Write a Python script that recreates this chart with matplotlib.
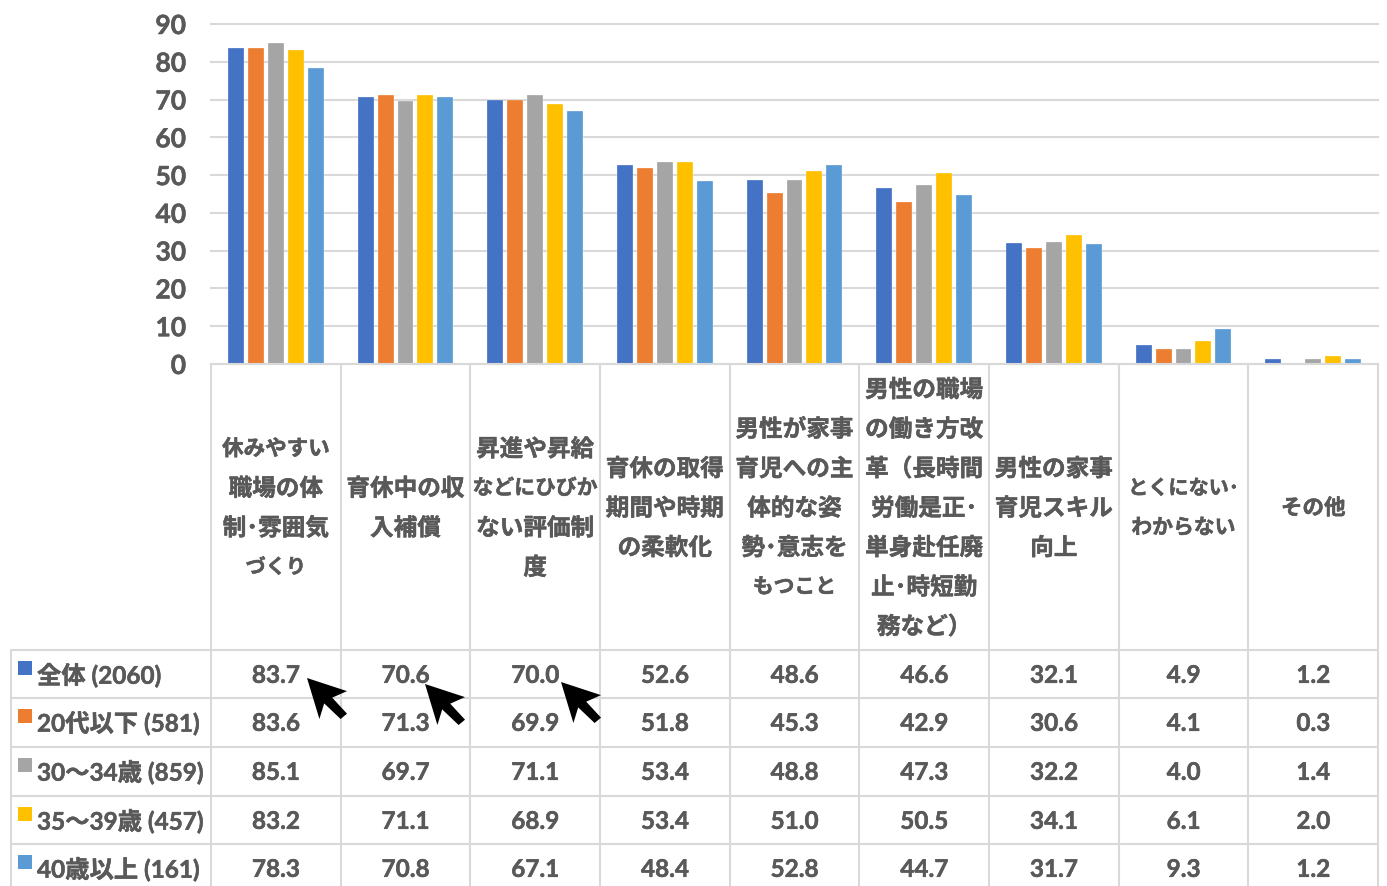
import matplotlib
matplotlib.use("Agg")
import matplotlib.patheffects as pe
import matplotlib.pyplot as plt
import numpy as np
from matplotlib.patches import Polygon, Rectangle

W, H = 1387, 886
FONT = ["Lato", "Noto Sans CJK JP", "DejaVu Sans"]
TEXT = "#595959"
GRID = "#D9D9D9"

categories = [
    ["休みやすい", "職場の体", "制･雰囲気", "づくり"],
    ["育休中の収", "入補償"],
    ["昇進や昇給", "などにひびか", "ない評価制", "度"],
    ["育休の取得", "期間や時期", "の柔軟化"],
    ["男性が家事", "育児への主", "体的な姿", "勢･意志を", "もつこと"],
    ["男性の職場", "の働き方改", "革（長時間", "労働是正･", "単身赴任廃", "止･時短勤", "務など）"],
    ["男性の家事", "育児スキル", "向上"],
    ["とくにない･", "わからない"],
    ["その他"],
]
series_names = ["全体 (2060)", "20代以下 (581)", "30～34歳 (859)", "35～39歳 (457)", "40歳以上 (161)"]
colors = ["#4472C4", "#ED7D31", "#A5A5A5", "#FFC000", "#5B9BD5"]
zentai = [83.7, 70.6, 70.0, 52.6, 48.6, 46.6, 32.1, 4.9, 1.2]
age20 = [83.6, 71.3, 69.9, 51.8, 45.3, 42.9, 30.6, 4.1, 0.3]
age30 = [85.1, 69.7, 71.1, 53.4, 48.8, 47.3, 32.2, 4.0, 1.4]
age35 = [83.2, 71.1, 68.9, 53.4, 51.0, 50.5, 34.1, 6.1, 2.0]
age40 = [78.3, 70.8, 67.1, 48.4, 52.8, 44.7, 31.7, 9.3, 1.2]
series = [zentai, age20, age30, age35, age40]
yticks = [0, 10, 20, 30, 40, 50, 60, 70, 80, 90]

# the kana in the original font is narrower, so those lines need a smaller size
line_sizes = {"休みやすい": 15.5, "づくり": 14.5, "もつこと": 15, "などにひびか": 15,
              "とくにない･": 14.5, "わからない": 15, "その他": 15.5}

# cursor arrows pasted on top of the table, tip position in pixels
arrow_tips = [(307, 678), (425, 684), (561, 682)]
arrow_shape = [(0, 0), (1, .32), (.63, .48), (1, .87), (.84, 1), (.43, .62), (.31, 1)]

plt.rcParams["font.family"] = FONT
plt.rcParams["font.weight"] = "bold"

# original text is fatter than the bold we have
fat = [pe.withStroke(linewidth=0.35, foreground=TEXT)]

fig = plt.figure(figsize=(W / 100, H / 100), dpi=100)

# chart area, pixels: x 211-1378, y 24-364
x0, x1, y0, y1 = 211, 1378, 364, 24
ax = fig.add_axes([x0 / W, 1 - y0 / H, (x1 - x0) / W, (y0 - y1) / H])
ax.set_xlim(0, len(categories))
ax.set_ylim(0, 90)
ax.set_yticks(yticks)
ax.set_xticks([])
ax.tick_params(axis="y", length=0, pad=18, labelsize=19, labelcolor=TEXT)
for lab in ax.get_yticklabels():
    lab.set_path_effects(fat)
ax.grid(axis="y", color=GRID, lw=1.5, clip_on=False)
ax.set_axisbelow(True)
for s in ax.spines.values():
    s.set_visible(False)

bar_w = 0.123
step = 0.154
xs = np.arange(len(categories)) + 0.5
for i, vals in enumerate(series):
    ax.bar(xs + (i - 2) * step, vals, bar_w, color=colors[i], edgecolor="white", lw=0.2, zorder=3)

# table underneath, drawn in pixel coords
tb = fig.add_axes([0, 0, 1, 1], facecolor="none")
tb.set_xlim(0, W)
tb.set_ylim(H, 0)
tb.axis("off")

col_w = (x1 - x0) / len(categories)
col_edges = [x0 + col_w * i for i in range(len(categories) + 1)]
row_tops = [650, 698, 747, 796, 844]
left = 11

for i, xe in enumerate(col_edges):
    tb.plot([xe, xe], [364, H], color=GRID, lw=1.5, solid_capstyle="butt")
tb.plot([left, left], [row_tops[0], H], color=GRID, lw=1.5, solid_capstyle="butt")
tb.plot([x0, x1], [364, 364], color=GRID, lw=1.5)
for yr in row_tops:
    tb.plot([left, x1], [yr, yr], color=GRID, lw=1.5)

for i, lines in enumerate(categories):
    cx = col_edges[i] + col_w / 2
    for j, line in enumerate(lines):
        yy = 508 + (j - (len(lines) - 1) / 2) * 39.5
        tb.text(cx, yy, line, ha="center", va="center", fontsize=line_sizes.get(line, 17),
                color=TEXT, path_effects=fat)

row_h = 48.7
for r, (name, vals) in enumerate(zip(series_names, series)):
    yc = row_tops[r] + row_h / 2
    tb.add_patch(Rectangle((18, row_tops[r] + 11), 14, 14, color=colors[r], lw=0))
    tb.text(37, yc + 1, name, ha="left", va="center", fontsize=17.5, color=TEXT, path_effects=fat)
    for i, v in enumerate(vals):
        tb.text(col_edges[i] + col_w / 2, yc + 1, f"{v:.1f}", ha="center", va="center",
                fontsize=17.5, color=TEXT, path_effects=fat)

for tx, ty in arrow_tips:
    pts = [(tx + px * 40, ty + py * 41) for px, py in arrow_shape]
    tb.add_patch(Polygon(pts, closed=True, color="black", lw=0, zorder=5))

fig.savefig("out.png", dpi=100)
